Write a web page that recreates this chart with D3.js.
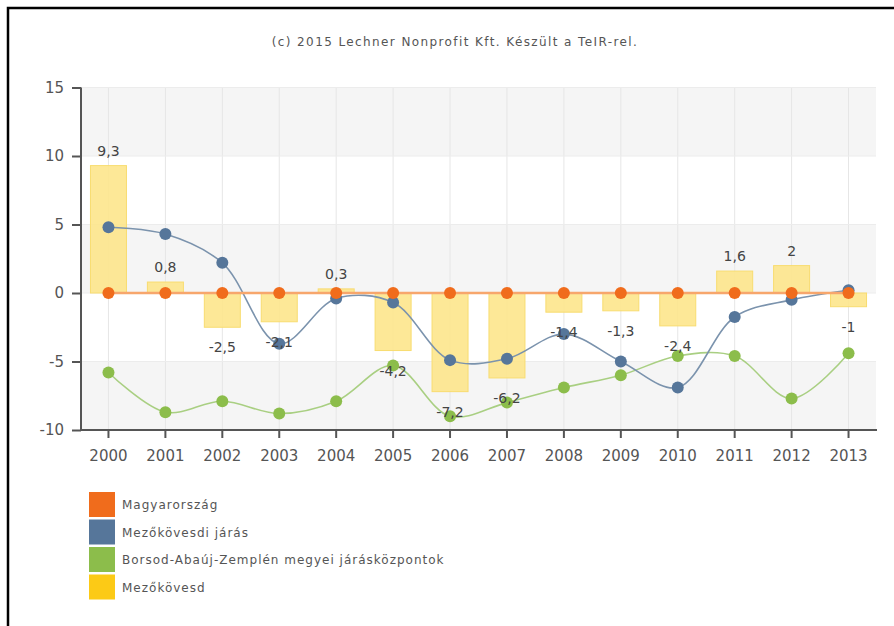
<!DOCTYPE html>
<html>
<head>
<meta charset="utf-8">
<script src="https://cdn.jsdelivr.net/npm/d3@7"></script>
<style>
  html, body { margin: 0; padding: 0; background: #fff; }
  svg { display: block; font-family: 'DejaVu Sans', Verdana, sans-serif; }
</style>
</head>
<body>
<div id="chart"></div>
<script>
const years = ['2000','2001','2002','2003','2004','2005','2006','2007','2008','2009','2010','2011','2012','2013'];
const magyarorszag = [0,0,0,0,0,0,0,0,0,0,0,0,0,0];
const jaras = [4.8,4.3,2.2,-3.7,-0.4,-0.7,-4.9,-4.8,-3.0,-5.0,-6.9,-1.75,-0.5,0.2];
const kozpontok = [-5.8,-8.7,-7.9,-8.8,-7.9,-5.3,-9.0,-8.0,-6.9,-6.0,-4.6,-4.6,-7.7,-4.4];
const mezokovesd = [9.3,0.8,-2.5,-2.1,0.3,-4.2,-7.2,-6.2,-1.4,-1.3,-2.4,1.6,2,-1];
const yTicks = [-10,-5,0,5,10,15];
const legendNames = ['Magyarország','Mezőkövesdi járás','Borsod-Abaúj-Zemplén megyei járásközpontok','Mezőkövesd'];
const title = '(c) 2015 Lechner Nonprofit Kft. Készült a TeIR-rel.';

const W = 894, H = 626;
const COL = { orange: '#f06c1c', blue: '#56769a', green: '#8cbd4b', yellow: '#fcca16' };

const svg = d3.select('#chart').append('svg')
  .attr('width', W).attr('height', H);

// frame
svg.append('path')
  .attr('d', `M8,${H} L8,8 L${W},8`)
  .attr('fill', 'none').attr('stroke', '#000').attr('stroke-width', 2.5);

svg.append('text')
  .attr('x', 455).attr('y', 46)
  .attr('text-anchor', 'middle')
  .attr('font-size', 12).attr('letter-spacing', 1.4).attr('fill', '#555')
  .text(title);

const pLeft = 81, pRight = 876, pTop = 87.5, pBottom = 430;

const x = d3.scaleBand().domain(years).range([80, 877]);
const cx = d => x(d) + x.bandwidth() / 2;
const y = d3.scaleLinear().domain([-10, 15]).range([pBottom, pTop]);

// alternating bands
const bands = d3.range(yTicks.length - 1).map(i => [yTicks[i], yTicks[i + 1]]);
svg.append('g').selectAll('rect')
  .data(bands)
  .join('rect')
  .attr('x', pLeft).attr('width', pRight - pLeft)
  .attr('y', d => y(d[1])).attr('height', d => y(d[0]) - y(d[1]))
  .attr('fill', (d, i) => i % 2 === 0 ? '#f5f5f5' : '#fff');

// grid
svg.append('g').selectAll('line')
  .data(years)
  .join('line')
  .attr('x1', cx).attr('x2', cx)
  .attr('y1', pTop).attr('y2', pBottom)
  .attr('stroke', '#e6e6e6');
svg.append('g').selectAll('line')
  .data(yTicks)
  .join('line')
  .attr('x1', pLeft).attr('x2', pRight)
  .attr('y1', d => y(d)).attr('y2', d => y(d))
  .attr('stroke', '#ececec');

// bars
const bw = 36;
svg.append('g').selectAll('rect')
  .data(mezokovesd)
  .join('rect')
  .attr('x', (d, i) => cx(years[i]) - bw / 2)
  .attr('width', bw)
  .attr('y', d => y(Math.max(0, d)))
  .attr('height', d => Math.abs(y(d) - y(0)))
  .attr('fill', '#fde68c')
  .attr('fill-opacity', 0.9)
  .attr('stroke', '#f8dc70');

// lines
const line = d3.line()
  .x((d, i) => cx(years[i]))
  .y(d => y(d))
  .curve(d3.curveCatmullRom.alpha(0.5));

const series = [
  { vals: kozpontok, line: '#a9cf82', dot: COL.green },
  { vals: jaras, line: '#7b93ad', dot: COL.blue },
  { vals: magyarorszag, line: '#f7a66c', dot: COL.orange, width: 2.5 }
];

series.forEach(s => {
  svg.append('path')
    .datum(s.vals)
    .attr('d', line)
    .attr('fill', 'none')
    .attr('stroke', s.line)
    .attr('stroke-width', s.width || 1.6);
});
series.forEach(s => {
  svg.append('g').selectAll('circle')
    .data(s.vals)
    .join('circle')
    .attr('cx', (d, i) => cx(years[i]))
    .attr('cy', d => y(d))
    .attr('r', 6)
    .attr('fill', s.dot);
});

// bar labels
const fmt = v => String(v).replace('.', ',');
svg.append('g').selectAll('text')
  .data(mezokovesd)
  .join('text')
  .attr('x', (d, i) => cx(years[i]))
  .attr('y', d => d >= 0 ? y(d) - 10 : y(d) + 25)
  .attr('text-anchor', 'middle')
  .attr('font-size', 14)
  .attr('fill', '#444')
  .text(fmt);

// axes
const yAxis = svg.append('g')
  .attr('transform', `translate(${pLeft},0)`)
  .call(d3.axisLeft(y).tickValues(yTicks).tickFormat(d => String(d)).tickSize(9).tickPadding(8));
const xAxis = svg.append('g')
  .attr('transform', `translate(0,${pBottom})`)
  .call(d3.axisBottom(x).tickSize(8).tickPadding(12));
[yAxis, xAxis].forEach(a => {
  a.select('.domain').attr('stroke', '#555').attr('stroke-width', 2);
  a.selectAll('.tick line').attr('stroke', '#555').attr('stroke-width', 2);
  a.selectAll('.tick text')
    .attr('font-size', 15)
    .attr('fill', '#555')
    .attr('font-family', "'DejaVu Sans', Verdana, sans-serif");
});
xAxis.select('.domain').attr('d', `M${pLeft},0H${pRight + 1}`);
yAxis.select('.domain').attr('d', `M0,${pTop}V${pBottom}`);

// legend
const legendColors = [COL.orange, COL.blue, COL.green, COL.yellow];
const lg = svg.append('g').selectAll('g')
  .data(legendNames)
  .join('g')
  .attr('transform', (d, i) => `translate(89,${492 + i * 27.5})`);
lg.append('rect')
  .attr('width', 26).attr('height', 25)
  .attr('fill', (d, i) => legendColors[i]);
lg.append('text')
  .attr('x', 33).attr('y', 17)
  .attr('font-size', 12)
  .attr('letter-spacing', 1)
  .attr('fill', '#555')
  .text(d => d);
</script>
</body>
</html>
